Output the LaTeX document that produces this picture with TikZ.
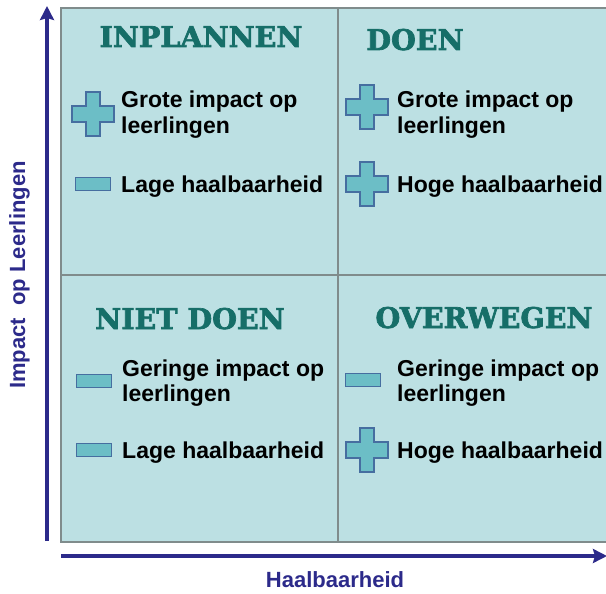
\documentclass[tikz,border=0pt]{standalone}
\usepackage{fontspec}
\setmainfont{Liberation Sans}
\newfontfamily\titlefont[FakeBold=2.4]{DejaVu Serif}
\usetikzlibrary{arrows.meta}

\definecolor{cellfill}{RGB}{188,224,227}
\definecolor{gridline}{RGB}{128,140,140}
\definecolor{titleteal}{RGB}{22,110,104}
\definecolor{axisblue}{RGB}{44,42,138}
\definecolor{iconfill}{RGB}{108,190,198}
\definecolor{iconline}{RGB}{70,110,160}

\tikzset{
  icon/.style={draw=iconline, fill=iconfill, line width=1.2pt},
  plusicon/.pic={\draw[icon] (-7,-22) -- (7,-22) -- (7,-8) -- (21,-8) -- (21,8) -- (7,8)
    -- (7,22) -- (-7,22) -- (-7,8) -- (-21,8) -- (-21,-8) -- (-7,-8) -- cycle;},
  minusicon/.pic={\draw[icon] (-17.5,-6.5) rectangle (17.5,6.5);},
  quadtitle/.style={anchor=base, inner sep=0pt, text=titleteal, font=\titlefont\bfseries\fontsize{28.5}{30}\selectfont},
  item/.style={anchor=base west, inner sep=0pt, align=left, font=\bfseries\fontsize{23}{25}\selectfont},
  axislabel/.style={anchor=base, text=axisblue, font=\bfseries\fontsize{22}{26}\selectfont},
}

\begin{document}
\begin{tikzpicture}[x=1pt, y=-1pt, >=Stealth]
  \clip (0,0) rectangle (606,594);

  % Quadrants
  \draw[gridline, fill=cellfill, line width=2.4pt] (61,8) rectangle (620,542);
  \draw[gridline, line width=2pt] (338,8) -- (338,542);
  \draw[gridline, line width=2pt] (61,275) -- (620,275);

  % Axes
  \coordinate (origin) at (47,541);
  \coordinate (ytop) at (47,6);
  \coordinate (xstart) at (61,556);
  \coordinate (xend) at (607,556);
  \draw[axisblue, line width=3.6pt, -{Stealth[length=14pt, width=14pt, inset=2pt]}] (origin) -- (ytop);
  \draw[axisblue, line width=3.6pt, -{Stealth[length=14pt, width=14pt, inset=2pt]}] (xstart) -- (xend);
  \node[axislabel] (xlabel) at (335,587) {Haalbaarheid};
  \node[axislabel, rotate=90] (ylabel) at (25,275) {Impact\ \ op Leerlingen};

  % Titles
  \node[quadtitle] (inplannen) at (201,47) {INPLANNEN};
  \node[quadtitle] (doen) at (415,50) {DOEN};
  \node[quadtitle] (nietdoen) at (190,329) {NIET DOEN};
  \node[quadtitle] (overwegen) at (484,328) {OVERWEGEN};

  % Top left
  \pic at (93,114) {plusicon};
  \node[item] (tlimpact) at (121,133) {Grote impact op\\leerlingen};
  \pic at (93,184) {minusicon};
  \node[item] (tlhaal) at (121,192) {Lage haalbaarheid};

  % Top right
  \pic at (367,107) {plusicon};
  \node[item] (trimpact) at (397,133) {Grote impact op\\leerlingen};
  \pic at (367,184) {plusicon};
  \node[item] (trhaal) at (397,192) {Hoge haalbaarheid};

  % Bottom left
  \pic at (94,381) {minusicon};
  \node[item] (blimpact) at (122,401) {Geringe impact op\\leerlingen};
  \pic at (94,450) {minusicon};
  \node[item] (blhaal) at (122,458) {Lage haalbaarheid};

  % Bottom right
  \pic at (363,380) {minusicon};
  \node[item] (brimpact) at (397,401) {Geringe impact op\\leerlingen};
  \pic at (367,450) {plusicon};
  \node[item] (brhaal) at (397,458) {Hoge haalbaarheid};

\end{tikzpicture}
\end{document}
